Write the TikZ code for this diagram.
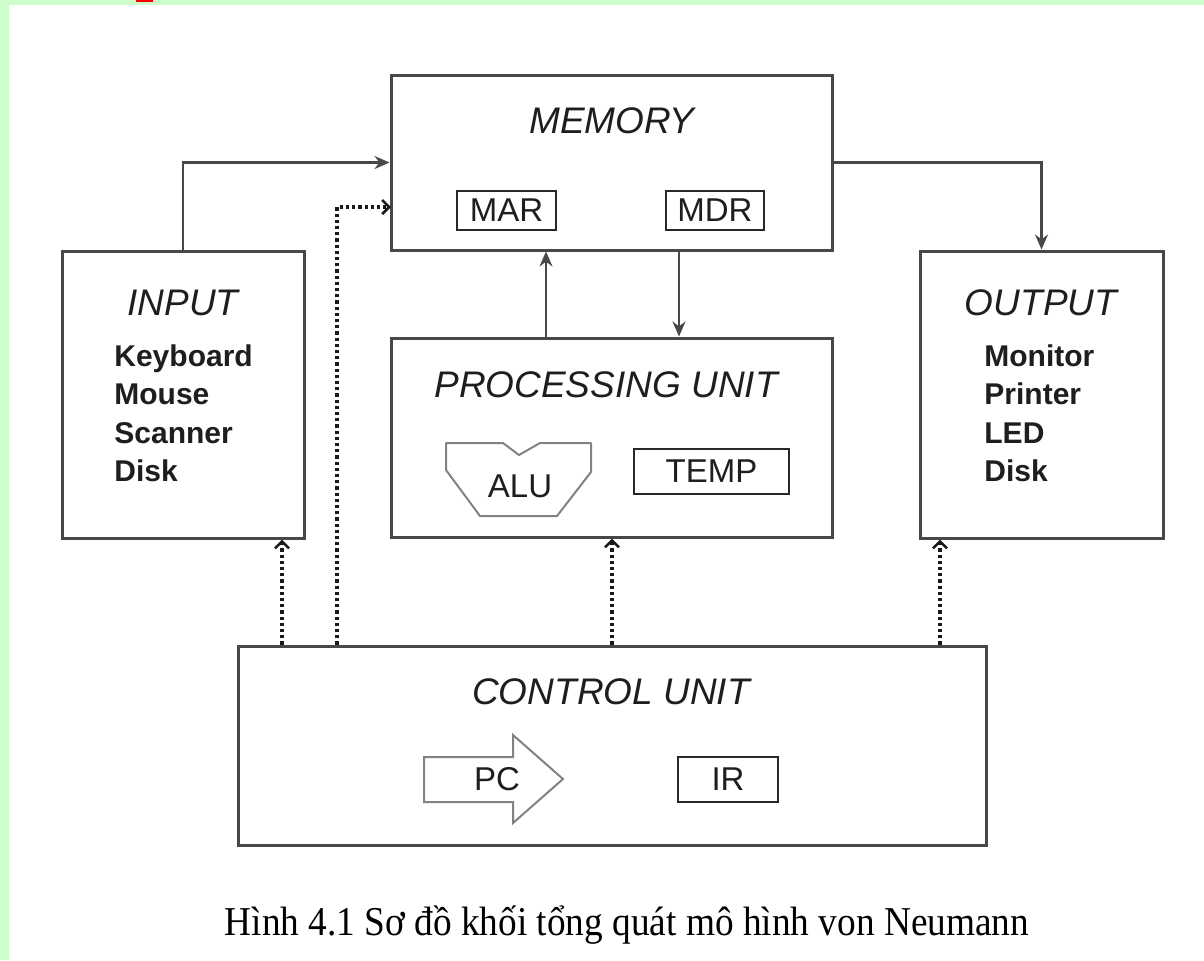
\documentclass[tikz,border=0pt]{standalone}
\usepackage{fontspec}
\setmainfont{Liberation Sans}
\newfontfamily\capfont{Liberation Serif}
\usetikzlibrary{arrows.meta,calc}
\definecolor{bgreen}{RGB}{204,255,204}
\definecolor{boxline}{RGB}{72,72,72}
\definecolor{subline}{RGB}{40,40,40}
\definecolor{shapeline}{RGB}{130,130,130}
\definecolor{txt}{RGB}{30,30,30}
\tikzset{
  bigbox/.style={draw=boxline, line width=1.5pt, minimum width=#1, inner sep=0pt},
  subbox/.style={draw=subline, line width=1pt, inner sep=0pt, font=\fontsize{16.5}{18}\selectfont, text=txt},
  title/.style={font=\fontsize{18.5}{20}\selectfont\itshape, text=txt, inner sep=0pt},
  items/.style={font=\fontsize{15}{19.25}\selectfont\bfseries, text=txt, align=left, inner sep=0pt, anchor=west},
  arr/.style={draw=boxline, line width=1.1pt, -{Stealth[length=7.5pt,width=6.5pt]}},
  dotarr/.style={draw=black!90, line width=2pt, dash pattern=on 1.6pt off 1.5pt, -{Straight Barb[length=3.5pt,width=7pt,line width=1.3pt]}}
}
\begin{document}
\begin{tikzpicture}[x=0.5pt,y=-0.5pt]
\useasboundingbox (0,0) rectangle (1204,960);
\fill[bgreen] (0,0) rectangle (1204,960);
\fill[white] (8.5,5) rectangle (1204,960);
\fill[red] (136,0) rectangle (153,1.5);
% main boxes
\node[bigbox=220.5pt, minimum height=87.5pt] (mem) at (611.5,162.5) {};
\node[bigbox=121pt, minimum height=143.5pt] (inp) at (183,394.5) {};
\node[bigbox=121.5pt, minimum height=143.5pt] (out) at (1041.5,394.5) {};
\node[bigbox=220.5pt, minimum height=99.5pt] (pu) at (611.5,437.5) {};
\node[bigbox=374pt, minimum height=99.5pt] (cu) at (612,745.5) {};
% titles
\node[title] (memt) at (612,121) {MEMORY};
\node[title] (inpt) at (183,303) {INPUT};
\node[title] (outt) at (1041,303) {OUTPUT};
\node[title] (put) at (606,385) {PROCESSING UNIT};
\node[title] (cut) at (611,692) {CONTROL UNIT};
% item lists
\node[items] (inpl) at (114,413.5) {Keyboard\\Mouse\\Scanner\\Disk};
\node[items] (outl) at (984,413.5) {Monitor\\Printer\\LED\\Disk};
% sub boxes
\node[subbox, minimum width=49.5pt, minimum height=19.5pt] (mar) at (506.5,210.5) {MAR};
\node[subbox, minimum width=49pt, minimum height=19.5pt] (mdr) at (715,210.5) {MDR};
\node[subbox, minimum width=77.5pt, minimum height=22.5pt] (temp) at (711.5,471.5) {TEMP};
\node[subbox, minimum width=50pt, minimum height=22.5pt] (ir) at (728,779.5) {IR};
% ALU shape
\draw[shapeline, line width=1pt, line join=round] (446,443) -- (503,443) -- (519,455) -- (540,443) -- (591,443) -- (591,472) -- (557,516) -- (480,516) -- (446,470) -- cycle;
\node[subbox, draw=none] (alu) at (520,486) {ALU};
% PC arrow
\draw[shapeline, line width=1pt, line join=miter] (424,757) -- (513,757) -- (513,735) -- (563,779) -- (513,823) -- (513,802) -- (424,802) -- cycle;
\node[subbox, draw=none] (pc) at (497,779) {PC};
% solid connectors
\draw[arr] (inp.north) |- (mem.west);
\draw[arr] (mem.east) -| (out.north);
\draw[arr] (pu.north -| 546,0) -- (mem.south -| 546,0);
\draw[arr] (mem.south -| 679,0) -- (pu.north -| 679,0);
% dotted control connectors
\coordinate (memin) at (391,207);
\draw[dotarr] (cu.north -| 337,0) |- (memin);
\draw[dotarr] (cu.north -| 282,0) -- (inp.south -| 282,0);
\draw[dotarr] (cu.north) -- (pu.south -| cu.north);
\draw[dotarr] (cu.north -| 940,0) -- (out.south -| 940,0);
% caption
\node[font=\capfont\fontsize{20.5}{22}\selectfont, text=black, inner sep=0pt, xscale=0.91] (cap) at (627,925) {Hình 4.1 Sơ đồ khối tổng quát mô hình von Neumann};
\end{tikzpicture}
\end{document}
